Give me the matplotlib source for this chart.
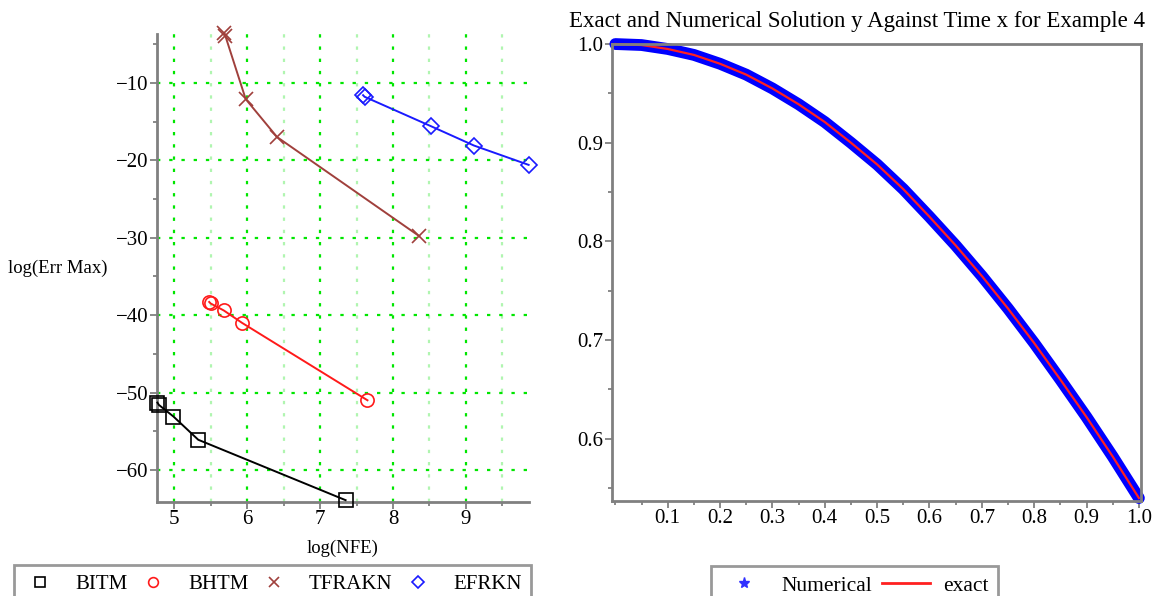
import matplotlib
matplotlib.use("Agg")
import matplotlib.pyplot as plt
from matplotlib.lines import Line2D
from matplotlib.ticker import MultipleLocator

plt.rcParams['font.family'] = ['Liberation Serif', 'DejaVu Serif']
plt.rcParams['axes.unicode_minus'] = True

# left panel: log(max error) vs log(NFE)
bitm_x = [4.77, 4.79, 4.99, 5.33, 7.35]
bitm_y = [-51.3, -51.6, -53.1, -56.1, -63.9]
bhtm_x = [5.48, 5.50, 5.68, 5.93, 7.65]
bhtm_y = [-38.3, -38.5, -39.4, -41.0, -51.0]
tfrakn_x = [5.68, 5.70, 5.98, 6.41, 8.36]
tfrakn_y = [-3.6, -3.9, -12.1, -17.0, -29.8]
efrkn_x = [7.59, 7.61, 8.52, 9.11, 9.86]
efrkn_y = [-11.6, -11.8, -15.6, -18.1, -20.6]

# right panel: solution
t_vals = [0.0, 0.05, 0.1, 0.15, 0.2, 0.25, 0.3, 0.35, 0.4, 0.45, 0.5,
          0.55, 0.6, 0.65, 0.7, 0.75, 0.8, 0.85, 0.9, 0.95, 1.0]
y_exact = [1.000, 0.999, 0.995, 0.989, 0.980, 0.969, 0.955, 0.939, 0.921, 0.900, 0.878,
           0.853, 0.825, 0.796, 0.765, 0.732, 0.697, 0.660, 0.622, 0.582, 0.540]
y_numer = list(y_exact)

gray = "#808080"
green = "#00e600"
brown = "#a0403c"

fig = plt.figure(figsize=(11.53, 5.96), dpi=100)

# ---- left
ax = fig.add_axes([0.1359, 0.1582, 0.3226, 0.7847])
series = [
    ("BITM", bitm_x, bitm_y, "black", "s"),
    ("BHTM", bhtm_x, bhtm_y, "#ff1a1a", "o"),
    ("TFRAKN", tfrakn_x, tfrakn_y, brown, "x"),
    ("EFRKN", efrkn_x, efrkn_y, "#1a1aff", "D"),
]
handles = []
for name, xs, ys, col, mk in series:
    ms = 8 if mk == "D" else 9.5
    ax.plot(xs, ys, color=col, lw=1.4, marker=mk, ms=ms, mfc="none",
            mec=col, mew=1.2, clip_on=False, zorder=3)
    handles.append(Line2D([], [], ls="none", marker=mk, ms=7 if mk != "D" else 6,
                          mfc="none", mec=col, mew=1.2, label=name))

ax.set_xlim(4.76, 9.86)
ax.set_ylim(-64.1, -3.7)
ax.xaxis.set_major_locator(MultipleLocator(1))
ax.xaxis.set_minor_locator(MultipleLocator(0.5))
ax.yaxis.set_major_locator(MultipleLocator(10))
ax.yaxis.set_minor_locator(MultipleLocator(5))
ax.grid(True, which="major", color=green, ls=(0, (1.5, 4)), lw=1.6)
ax.grid(True, which="minor", axis="x", color="#b0f5b0", ls=(0, (1.5, 4)), lw=1.6)
for s in ["top", "right"]:
    ax.spines[s].set_visible(False)
for s in ["left", "bottom"]:
    ax.spines[s].set_color(gray)
    ax.spines[s].set_linewidth(2)
ax.tick_params(which="major", length=5, width=1.3, color=gray, labelsize=15, pad=1)
ax.tick_params(which="minor", length=3, width=1.3, color=gray)
ax.set_axisbelow(True)
ax.set_xlabel("log(NFE)", fontsize=13.5, labelpad=8)
ax.set_ylabel("log(Err Max)", fontsize=13.5, rotation=0, ha="left", va="center")
ax.yaxis.set_label_coords(-0.40, 0.5)

fig.legend(handles=handles, ncol=4, loc="upper left",
           bbox_to_anchor=(14 / 1153, 1 - 565 / 596), fontsize=15,
           frameon=True, fancybox=False, edgecolor=gray, borderpad=0.45,
           handlelength=1.6, handletextpad=0.9, columnspacing=0.4,
           borderaxespad=0).get_frame().set_linewidth(2)

# ---- right
ax2 = fig.add_axes([0.5305, 0.1602, 0.4591, 0.7659])
ax2.plot(t_vals, y_numer, color="#0000ff", lw=8.5, solid_capstyle="round",
         solid_joinstyle="round", clip_on=False)
ax2.plot(t_vals, y_exact, color="#ff2020", lw=1.6, clip_on=False)
ax2.set_xlim(-0.007, 1.004)
ax2.set_ylim(0.5375, 1.0)
ax2.set_xticks([0.1, 0.2, 0.3, 0.4, 0.5, 0.6, 0.7, 0.8, 0.9, 1.0])
ax2.xaxis.set_minor_locator(MultipleLocator(0.05))
ax2.yaxis.set_major_locator(MultipleLocator(0.1))
ax2.yaxis.set_minor_locator(MultipleLocator(0.05))
ax2.xaxis.set_major_formatter(plt.FuncFormatter(lambda v, p: f"{v:.1f}"))
ax2.yaxis.set_major_formatter(plt.FuncFormatter(lambda v, p: f"{v:.1f}"))
for s in ax2.spines.values():
    s.set_color(gray)
    s.set_linewidth(2)
ax2.tick_params(which="major", length=5, width=1.3, color=gray, labelsize=15, pad=1)
ax2.tick_params(which="minor", length=3, width=1.3, color=gray)
fig.text(857 / 1153, 1 - 22 / 596,
         "Exact and Numerical Solution y Against Time x for Example 4",
         fontsize=16.5, ha="center", va="center")

h2 = [Line2D([], [], ls="none", marker="*", ms=8, color="#3030ff", label="Numerical"),
      Line2D([], [], color="#ff2020", lw=2, label="exact")]
fig.legend(handles=h2, ncol=2, loc="upper left",
           bbox_to_anchor=(711 / 1153, 1 - 566 / 596), fontsize=15.5,
           frameon=True, fancybox=False, edgecolor=gray, borderpad=0.45,
           handlelength=2.2, handletextpad=0.6, columnspacing=0.5,
           borderaxespad=0).get_frame().set_linewidth(2)

fig.savefig("out.png", dpi=100)
